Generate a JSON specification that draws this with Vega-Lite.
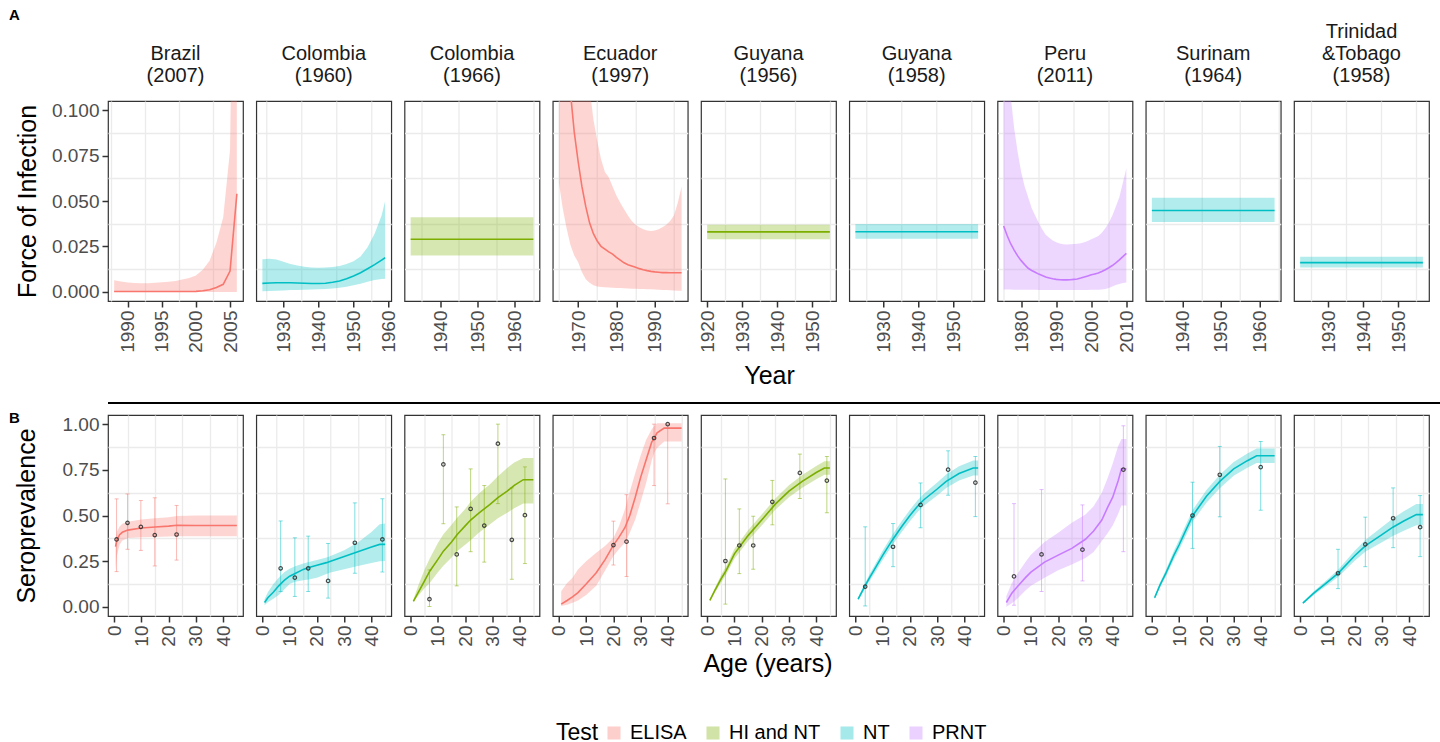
{
  "$schema": "https://vega.github.io/schema/vega-lite/v6.json",
  "background": "white",
  "padding": {"left": 9, "top": 8, "right": 5, "bottom": 5},
  "title": {"text": "A", "anchor": "start", "frame": "bounds", "fontSize": 15, "fontWeight": "bold", "dx": 0, "offset": -1},
  "datasets": {
    "foi": [
      {"site":"Brazil|(2007)","test":"ELISA","year":1988,"est":0.0002,"lo":0,"hi":0.0064},
      {"site":"Brazil|(2007)","test":"ELISA","year":1989,"est":0.0002,"lo":0,"hi":0.0057},
      {"site":"Brazil|(2007)","test":"ELISA","year":1990,"est":0.0002,"lo":0,"hi":0.0052},
      {"site":"Brazil|(2007)","test":"ELISA","year":1991,"est":0.0002,"lo":0,"hi":0.0049},
      {"site":"Brazil|(2007)","test":"ELISA","year":1992,"est":0.0002,"lo":0,"hi":0.0047},
      {"site":"Brazil|(2007)","test":"ELISA","year":1993,"est":0.0002,"lo":0,"hi":0.0048},
      {"site":"Brazil|(2007)","test":"ELISA","year":1994,"est":0.0002,"lo":0,"hi":0.005},
      {"site":"Brazil|(2007)","test":"ELISA","year":1995,"est":0.0002,"lo":0,"hi":0.0053},
      {"site":"Brazil|(2007)","test":"ELISA","year":1996,"est":0.0002,"lo":0,"hi":0.0056},
      {"site":"Brazil|(2007)","test":"ELISA","year":1997,"est":0.0002,"lo":0,"hi":0.006},
      {"site":"Brazil|(2007)","test":"ELISA","year":1998,"est":0.0002,"lo":0,"hi":0.0068},
      {"site":"Brazil|(2007)","test":"ELISA","year":1999,"est":0.0002,"lo":0,"hi":0.0077},
      {"site":"Brazil|(2007)","test":"ELISA","year":2000,"est":0.0003,"lo":0,"hi":0.009},
      {"site":"Brazil|(2007)","test":"ELISA","year":2001,"est":0.0006,"lo":0,"hi":0.0122},
      {"site":"Brazil|(2007)","test":"ELISA","year":2002,"est":0.0012,"lo":0,"hi":0.0172},
      {"site":"Brazil|(2007)","test":"ELISA","year":2003,"est":0.0024,"lo":0,"hi":0.027},
      {"site":"Brazil|(2007)","test":"ELISA","year":2004,"est":0.0042,"lo":0,"hi":0.041},
      {"site":"Brazil|(2007)","test":"ELISA","year":2005,"est":0.0115,"lo":0,"hi":0.078},
      {"site":"Brazil|(2007)","test":"ELISA","year":2006,"est":0.054,"lo":0,"hi":0.35},
      {"site":"Colombia|(1960)","test":"NT","year":1924,"est":0.0047,"lo":0.0003,"hi":0.018},
      {"site":"Colombia|(1960)","test":"NT","year":1926,"est":0.0049,"lo":0.0005,"hi":0.0182},
      {"site":"Colombia|(1960)","test":"NT","year":1928,"est":0.005,"lo":0.0006,"hi":0.0178},
      {"site":"Colombia|(1960)","test":"NT","year":1930,"est":0.005,"lo":0.0008,"hi":0.0166},
      {"site":"Colombia|(1960)","test":"NT","year":1932,"est":0.005,"lo":0.001,"hi":0.0153},
      {"site":"Colombia|(1960)","test":"NT","year":1934,"est":0.0049,"lo":0.0011,"hi":0.0145},
      {"site":"Colombia|(1960)","test":"NT","year":1936,"est":0.0048,"lo":0.0012,"hi":0.0138},
      {"site":"Colombia|(1960)","test":"NT","year":1938,"est":0.0046,"lo":0.0013,"hi":0.0134},
      {"site":"Colombia|(1960)","test":"NT","year":1940,"est":0.0046,"lo":0.0014,"hi":0.0133},
      {"site":"Colombia|(1960)","test":"NT","year":1942,"est":0.0048,"lo":0.0016,"hi":0.0134},
      {"site":"Colombia|(1960)","test":"NT","year":1944,"est":0.0053,"lo":0.0019,"hi":0.0137},
      {"site":"Colombia|(1960)","test":"NT","year":1946,"est":0.006,"lo":0.0023,"hi":0.0143},
      {"site":"Colombia|(1960)","test":"NT","year":1948,"est":0.0072,"lo":0.0029,"hi":0.0153},
      {"site":"Colombia|(1960)","test":"NT","year":1950,"est":0.0087,"lo":0.0036,"hi":0.0168},
      {"site":"Colombia|(1960)","test":"NT","year":1952,"est":0.0105,"lo":0.0045,"hi":0.0195},
      {"site":"Colombia|(1960)","test":"NT","year":1954,"est":0.0127,"lo":0.0056,"hi":0.0245},
      {"site":"Colombia|(1960)","test":"NT","year":1956,"est":0.015,"lo":0.0066,"hi":0.032},
      {"site":"Colombia|(1960)","test":"NT","year":1958,"est":0.0175,"lo":0.0071,"hi":0.042},
      {"site":"Colombia|(1960)","test":"NT","year":1959,"est":0.0188,"lo":0.0072,"hi":0.05},
      {"site":"Colombia|(1966)","test":"HI and NT","year":1932,"est":0.029,"lo":0.02,"hi":0.041},
      {"site":"Colombia|(1966)","test":"HI and NT","year":1965,"est":0.029,"lo":0.02,"hi":0.041},
      {"site":"Ecuador|(1997)","test":"ELISA","year":1965,"est":0.25,"lo":0.06,"hi":0.45},
      {"site":"Ecuador|(1997)","test":"ELISA","year":1966,"est":0.19,"lo":0.046,"hi":0.42},
      {"site":"Ecuador|(1997)","test":"ELISA","year":1967,"est":0.145,"lo":0.035,"hi":0.38},
      {"site":"Ecuador|(1997)","test":"ELISA","year":1968,"est":0.11,"lo":0.026,"hi":0.33},
      {"site":"Ecuador|(1997)","test":"ELISA","year":1969,"est":0.088,"lo":0.02,"hi":0.27},
      {"site":"Ecuador|(1997)","test":"ELISA","year":1970,"est":0.072,"lo":0.0165,"hi":0.22},
      {"site":"Ecuador|(1997)","test":"ELISA","year":1971,"est":0.058,"lo":0.011,"hi":0.18},
      {"site":"Ecuador|(1997)","test":"ELISA","year":1972,"est":0.047,"lo":0.007,"hi":0.14},
      {"site":"Ecuador|(1997)","test":"ELISA","year":1973,"est":0.038,"lo":0.005,"hi":0.112},
      {"site":"Ecuador|(1997)","test":"ELISA","year":1974,"est":0.032,"lo":0.0036,"hi":0.095},
      {"site":"Ecuador|(1997)","test":"ELISA","year":1975,"est":0.028,"lo":0.003,"hi":0.083},
      {"site":"Ecuador|(1997)","test":"ELISA","year":1976,"est":0.025,"lo":0.0027,"hi":0.073},
      {"site":"Ecuador|(1997)","test":"ELISA","year":1977,"est":0.0235,"lo":0.0025,"hi":0.066},
      {"site":"Ecuador|(1997)","test":"ELISA","year":1978,"est":0.022,"lo":0.0024,"hi":0.063},
      {"site":"Ecuador|(1997)","test":"ELISA","year":1979,"est":0.0208,"lo":0.0023,"hi":0.058},
      {"site":"Ecuador|(1997)","test":"ELISA","year":1980,"est":0.019,"lo":0.0022,"hi":0.053},
      {"site":"Ecuador|(1997)","test":"ELISA","year":1981,"est":0.0175,"lo":0.0021,"hi":0.049},
      {"site":"Ecuador|(1997)","test":"ELISA","year":1982,"est":0.016,"lo":0.002,"hi":0.0455},
      {"site":"Ecuador|(1997)","test":"ELISA","year":1983,"est":0.015,"lo":0.0019,"hi":0.042},
      {"site":"Ecuador|(1997)","test":"ELISA","year":1984,"est":0.0143,"lo":0.0018,"hi":0.039},
      {"site":"Ecuador|(1997)","test":"ELISA","year":1985,"est":0.0135,"lo":0.0017,"hi":0.037},
      {"site":"Ecuador|(1997)","test":"ELISA","year":1986,"est":0.0128,"lo":0.0016,"hi":0.0355},
      {"site":"Ecuador|(1997)","test":"ELISA","year":1987,"est":0.0122,"lo":0.0016,"hi":0.0345},
      {"site":"Ecuador|(1997)","test":"ELISA","year":1988,"est":0.0117,"lo":0.0015,"hi":0.0338},
      {"site":"Ecuador|(1997)","test":"ELISA","year":1989,"est":0.0113,"lo":0.0014,"hi":0.0335},
      {"site":"Ecuador|(1997)","test":"ELISA","year":1990,"est":0.011,"lo":0.0013,"hi":0.0338},
      {"site":"Ecuador|(1997)","test":"ELISA","year":1991,"est":0.0108,"lo":0.0012,"hi":0.0345},
      {"site":"Ecuador|(1997)","test":"ELISA","year":1992,"est":0.0106,"lo":0.0011,"hi":0.0355},
      {"site":"Ecuador|(1997)","test":"ELISA","year":1993,"est":0.0106,"lo":0.001,"hi":0.037},
      {"site":"Ecuador|(1997)","test":"ELISA","year":1994,"est":0.0105,"lo":0.0009,"hi":0.039},
      {"site":"Ecuador|(1997)","test":"ELISA","year":1995,"est":0.0105,"lo":0.0008,"hi":0.042},
      {"site":"Ecuador|(1997)","test":"ELISA","year":1996,"est":0.0105,"lo":0.0007,"hi":0.049},
      {"site":"Ecuador|(1997)","test":"ELISA","year":1997,"est":0.0105,"lo":0.0006,"hi":0.058},
      {"site":"Guyana|(1956)","test":"HI and NT","year":1920,"est":0.033,"lo":0.029,"hi":0.037},
      {"site":"Guyana|(1956)","test":"HI and NT","year":1955,"est":0.033,"lo":0.029,"hi":0.037},
      {"site":"Guyana|(1958)","test":"NT","year":1922,"est":0.0331,"lo":0.0293,"hi":0.0374},
      {"site":"Guyana|(1958)","test":"NT","year":1957,"est":0.0331,"lo":0.0293,"hi":0.0374},
      {"site":"Peru|(2011)","test":"PRNT","year":1975,"est":0.0363,"lo":0.0013,"hi":0.16},
      {"site":"Peru|(2011)","test":"PRNT","year":1976,"est":0.031,"lo":0.0013,"hi":0.135},
      {"site":"Peru|(2011)","test":"PRNT","year":1977,"est":0.0265,"lo":0.0013,"hi":0.108},
      {"site":"Peru|(2011)","test":"PRNT","year":1978,"est":0.023,"lo":0.0012,"hi":0.09},
      {"site":"Peru|(2011)","test":"PRNT","year":1979,"est":0.0198,"lo":0.0012,"hi":0.077},
      {"site":"Peru|(2011)","test":"PRNT","year":1980,"est":0.0172,"lo":0.0012,"hi":0.066},
      {"site":"Peru|(2011)","test":"PRNT","year":1981,"est":0.015,"lo":0.0012,"hi":0.058},
      {"site":"Peru|(2011)","test":"PRNT","year":1982,"est":0.013,"lo":0.0012,"hi":0.052},
      {"site":"Peru|(2011)","test":"PRNT","year":1983,"est":0.0118,"lo":0.0012,"hi":0.046},
      {"site":"Peru|(2011)","test":"PRNT","year":1984,"est":0.0108,"lo":0.0012,"hi":0.042},
      {"site":"Peru|(2011)","test":"PRNT","year":1985,"est":0.0098,"lo":0.0011,"hi":0.038},
      {"site":"Peru|(2011)","test":"PRNT","year":1986,"est":0.009,"lo":0.0011,"hi":0.0345},
      {"site":"Peru|(2011)","test":"PRNT","year":1987,"est":0.0082,"lo":0.0011,"hi":0.0315},
      {"site":"Peru|(2011)","test":"PRNT","year":1988,"est":0.0077,"lo":0.0011,"hi":0.0298},
      {"site":"Peru|(2011)","test":"PRNT","year":1989,"est":0.0072,"lo":0.0011,"hi":0.0283},
      {"site":"Peru|(2011)","test":"PRNT","year":1990,"est":0.0069,"lo":0.0011,"hi":0.0273},
      {"site":"Peru|(2011)","test":"PRNT","year":1991,"est":0.0067,"lo":0.0011,"hi":0.0266},
      {"site":"Peru|(2011)","test":"PRNT","year":1992,"est":0.0066,"lo":0.0011,"hi":0.0262},
      {"site":"Peru|(2011)","test":"PRNT","year":1993,"est":0.0066,"lo":0.0011,"hi":0.0261},
      {"site":"Peru|(2011)","test":"PRNT","year":1994,"est":0.0067,"lo":0.0011,"hi":0.0262},
      {"site":"Peru|(2011)","test":"PRNT","year":1995,"est":0.0069,"lo":0.0011,"hi":0.0263},
      {"site":"Peru|(2011)","test":"PRNT","year":1996,"est":0.0071,"lo":0.0011,"hi":0.0265},
      {"site":"Peru|(2011)","test":"PRNT","year":1997,"est":0.0076,"lo":0.0011,"hi":0.0268},
      {"site":"Peru|(2011)","test":"PRNT","year":1998,"est":0.0082,"lo":0.0011,"hi":0.0273},
      {"site":"Peru|(2011)","test":"PRNT","year":1999,"est":0.0088,"lo":0.0011,"hi":0.028},
      {"site":"Peru|(2011)","test":"PRNT","year":2000,"est":0.0094,"lo":0.0012,"hi":0.029},
      {"site":"Peru|(2011)","test":"PRNT","year":2001,"est":0.0099,"lo":0.0012,"hi":0.0298},
      {"site":"Peru|(2011)","test":"PRNT","year":2002,"est":0.0104,"lo":0.0012,"hi":0.0308},
      {"site":"Peru|(2011)","test":"PRNT","year":2003,"est":0.0112,"lo":0.0013,"hi":0.0325},
      {"site":"Peru|(2011)","test":"PRNT","year":2004,"est":0.0122,"lo":0.0016,"hi":0.035},
      {"site":"Peru|(2011)","test":"PRNT","year":2005,"est":0.0133,"lo":0.0022,"hi":0.038},
      {"site":"Peru|(2011)","test":"PRNT","year":2006,"est":0.0145,"lo":0.003,"hi":0.042},
      {"site":"Peru|(2011)","test":"PRNT","year":2007,"est":0.016,"lo":0.0038,"hi":0.047},
      {"site":"Peru|(2011)","test":"PRNT","year":2008,"est":0.0176,"lo":0.0044,"hi":0.052},
      {"site":"Peru|(2011)","test":"PRNT","year":2009,"est":0.0194,"lo":0.0049,"hi":0.06},
      {"site":"Peru|(2011)","test":"PRNT","year":2010,"est":0.0212,"lo":0.0052,"hi":0.068},
      {"site":"Surinam|(1964)","test":"NT","year":1932,"est":0.0448,"lo":0.0385,"hi":0.0518},
      {"site":"Surinam|(1964)","test":"NT","year":1964,"est":0.0448,"lo":0.0385,"hi":0.0518},
      {"site":"Trinidad|&Tobago|(1958)","test":"NT","year":1922,"est":0.0161,"lo":0.0134,"hi":0.0194},
      {"site":"Trinidad|&Tobago|(1958)","test":"NT","year":1957,"est":0.0161,"lo":0.0134,"hi":0.0194}
    ],
    "sero": [
      {"site":"Brazil|(2007)","test":"ELISA","kind":"fit","age":0.5,"est":0.33,"lo":0.2,"hi":0.37},
      {"site":"Brazil|(2007)","test":"ELISA","kind":"fit","age":1,"est":0.365,"lo":0.28,"hi":0.41},
      {"site":"Brazil|(2007)","test":"ELISA","kind":"fit","age":2,"est":0.395,"lo":0.34,"hi":0.44},
      {"site":"Brazil|(2007)","test":"ELISA","kind":"fit","age":3,"est":0.408,"lo":0.363,"hi":0.455},
      {"site":"Brazil|(2007)","test":"ELISA","kind":"fit","age":5,"est":0.42,"lo":0.377,"hi":0.466},
      {"site":"Brazil|(2007)","test":"ELISA","kind":"fit","age":10,"est":0.432,"lo":0.381,"hi":0.478},
      {"site":"Brazil|(2007)","test":"ELISA","kind":"fit","age":15,"est":0.437,"lo":0.383,"hi":0.485},
      {"site":"Brazil|(2007)","test":"ELISA","kind":"fit","age":20,"est":0.442,"lo":0.385,"hi":0.49},
      {"site":"Brazil|(2007)","test":"ELISA","kind":"fit","age":23,"est":0.447,"lo":0.387,"hi":0.497},
      {"site":"Brazil|(2007)","test":"ELISA","kind":"fit","age":30,"est":0.445,"lo":0.386,"hi":0.5},
      {"site":"Brazil|(2007)","test":"ELISA","kind":"fit","age":45,"est":0.445,"lo":0.386,"hi":0.5},
      {"site":"Brazil|(2007)","test":"ELISA","kind":"obs","age":0.9,"est":0.369,"lo":0.193,"hi":0.591},
      {"site":"Brazil|(2007)","test":"ELISA","kind":"obs","age":4.9,"est":0.46,"lo":0.315,"hi":0.618},
      {"site":"Brazil|(2007)","test":"ELISA","kind":"obs","age":9.8,"est":0.438,"lo":0.309,"hi":0.582},
      {"site":"Brazil|(2007)","test":"ELISA","kind":"obs","age":14.9,"est":0.393,"lo":0.224,"hi":0.597},
      {"site":"Brazil|(2007)","test":"ELISA","kind":"obs","age":22.9,"est":0.396,"lo":0.256,"hi":0.555},
      {"site":"Colombia|(1960)","test":"NT","kind":"fit","age":0.8,"est":0.024,"lo":0.009,"hi":0.042},
      {"site":"Colombia|(1960)","test":"NT","kind":"fit","age":2,"est":0.05,"lo":0.025,"hi":0.08},
      {"site":"Colombia|(1960)","test":"NT","kind":"fit","age":4,"est":0.08,"lo":0.045,"hi":0.125},
      {"site":"Colombia|(1960)","test":"NT","kind":"fit","age":6,"est":0.115,"lo":0.065,"hi":0.16},
      {"site":"Colombia|(1960)","test":"NT","kind":"fit","age":8,"est":0.145,"lo":0.095,"hi":0.19},
      {"site":"Colombia|(1960)","test":"NT","kind":"fit","age":10,"est":0.168,"lo":0.125,"hi":0.209},
      {"site":"Colombia|(1960)","test":"NT","kind":"fit","age":12,"est":0.183,"lo":0.137,"hi":0.222},
      {"site":"Colombia|(1960)","test":"NT","kind":"fit","age":15,"est":0.205,"lo":0.145,"hi":0.238},
      {"site":"Colombia|(1960)","test":"NT","kind":"fit","age":17,"est":0.215,"lo":0.15,"hi":0.245},
      {"site":"Colombia|(1960)","test":"NT","kind":"fit","age":20,"est":0.228,"lo":0.16,"hi":0.256},
      {"site":"Colombia|(1960)","test":"NT","kind":"fit","age":23.5,"est":0.242,"lo":0.18,"hi":0.27},
      {"site":"Colombia|(1960)","test":"NT","kind":"fit","age":25,"est":0.25,"lo":0.188,"hi":0.278},
      {"site":"Colombia|(1960)","test":"NT","kind":"fit","age":30,"est":0.276,"lo":0.206,"hi":0.31},
      {"site":"Colombia|(1960)","test":"NT","kind":"fit","age":35,"est":0.302,"lo":0.224,"hi":0.352},
      {"site":"Colombia|(1960)","test":"NT","kind":"fit","age":40,"est":0.327,"lo":0.24,"hi":0.41},
      {"site":"Colombia|(1960)","test":"NT","kind":"fit","age":43,"est":0.342,"lo":0.25,"hi":0.452},
      {"site":"Colombia|(1960)","test":"NT","kind":"fit","age":45,"est":0.342,"lo":0.251,"hi":0.456},
      {"site":"Colombia|(1960)","test":"NT","kind":"obs","age":6.7,"est":0.211,"lo":0.084,"hi":0.47},
      {"site":"Colombia|(1960)","test":"NT","kind":"obs","age":11.9,"est":0.16,"lo":0.057,"hi":0.378},
      {"site":"Colombia|(1960)","test":"NT","kind":"obs","age":16.8,"est":0.211,"lo":0.084,"hi":0.387},
      {"site":"Colombia|(1960)","test":"NT","kind":"obs","age":24.1,"est":0.142,"lo":0.048,"hi":0.347},
      {"site":"Colombia|(1960)","test":"NT","kind":"obs","age":33.9,"est":0.351,"lo":0.184,"hi":0.569},
      {"site":"Colombia|(1960)","test":"NT","kind":"obs","age":44,"est":0.369,"lo":0.191,"hi":0.591},
      {"site":"Colombia|(1966)","test":"HI and NT","kind":"fit","age":1,"est":0.03,"lo":0.028,"hi":0.04},
      {"site":"Colombia|(1966)","test":"HI and NT","kind":"fit","age":3,"est":0.085,"lo":0.065,"hi":0.125},
      {"site":"Colombia|(1966)","test":"HI and NT","kind":"fit","age":5,"est":0.14,"lo":0.1,"hi":0.2},
      {"site":"Colombia|(1966)","test":"HI and NT","kind":"fit","age":7,"est":0.195,"lo":0.13,"hi":0.265},
      {"site":"Colombia|(1966)","test":"HI and NT","kind":"fit","age":10,"est":0.26,"lo":0.19,"hi":0.35},
      {"site":"Colombia|(1966)","test":"HI and NT","kind":"fit","age":12,"est":0.305,"lo":0.225,"hi":0.398},
      {"site":"Colombia|(1966)","test":"HI and NT","kind":"fit","age":15,"est":0.355,"lo":0.27,"hi":0.45},
      {"site":"Colombia|(1966)","test":"HI and NT","kind":"fit","age":17,"est":0.395,"lo":0.305,"hi":0.487},
      {"site":"Colombia|(1966)","test":"HI and NT","kind":"fit","age":20,"est":0.443,"lo":0.34,"hi":0.535},
      {"site":"Colombia|(1966)","test":"HI and NT","kind":"fit","age":22,"est":0.475,"lo":0.365,"hi":0.575},
      {"site":"Colombia|(1966)","test":"HI and NT","kind":"fit","age":25,"est":0.513,"lo":0.405,"hi":0.62},
      {"site":"Colombia|(1966)","test":"HI and NT","kind":"fit","age":29,"est":0.56,"lo":0.451,"hi":0.669},
      {"site":"Colombia|(1966)","test":"HI and NT","kind":"fit","age":32,"est":0.598,"lo":0.485,"hi":0.715},
      {"site":"Colombia|(1966)","test":"HI and NT","kind":"fit","age":35.4,"est":0.633,"lo":0.515,"hi":0.76},
      {"site":"Colombia|(1966)","test":"HI and NT","kind":"fit","age":38,"est":0.665,"lo":0.54,"hi":0.79},
      {"site":"Colombia|(1966)","test":"HI and NT","kind":"fit","age":41.3,"est":0.696,"lo":0.565,"hi":0.815},
      {"site":"Colombia|(1966)","test":"HI and NT","kind":"fit","age":45,"est":0.696,"lo":0.565,"hi":0.815},
      {"site":"Colombia|(1966)","test":"HI and NT","kind":"obs","age":6.9,"est":0.042,"lo":0.002,"hi":0.202},
      {"site":"Colombia|(1966)","test":"HI and NT","kind":"obs","age":12,"est":0.78,"lo":0.455,"hi":0.942},
      {"site":"Colombia|(1966)","test":"HI and NT","kind":"obs","age":16.9,"est":0.287,"lo":0.115,"hi":0.547},
      {"site":"Colombia|(1966)","test":"HI and NT","kind":"obs","age":22,"est":0.536,"lo":0.302,"hi":0.755},
      {"site":"Colombia|(1966)","test":"HI and NT","kind":"obs","age":27,"est":0.445,"lo":0.245,"hi":0.664},
      {"site":"Colombia|(1966)","test":"HI and NT","kind":"obs","age":32,"est":0.893,"lo":0.565,"hi":1.0},
      {"site":"Colombia|(1966)","test":"HI and NT","kind":"obs","age":37.1,"est":0.367,"lo":0.151,"hi":0.651},
      {"site":"Colombia|(1966)","test":"HI and NT","kind":"obs","age":41.9,"est":0.502,"lo":0.237,"hi":0.766},
      {"site":"Ecuador|(1997)","test":"ELISA","kind":"fit","age":0.85,"est":0.015,"lo":0.005,"hi":0.085},
      {"site":"Ecuador|(1997)","test":"ELISA","kind":"fit","age":3,"est":0.035,"lo":0.012,"hi":0.13},
      {"site":"Ecuador|(1997)","test":"ELISA","kind":"fit","age":5,"est":0.055,"lo":0.022,"hi":0.16},
      {"site":"Ecuador|(1997)","test":"ELISA","kind":"fit","age":7,"est":0.078,"lo":0.035,"hi":0.205},
      {"site":"Ecuador|(1997)","test":"ELISA","kind":"fit","age":10,"est":0.125,"lo":0.065,"hi":0.25},
      {"site":"Ecuador|(1997)","test":"ELISA","kind":"fit","age":13.7,"est":0.187,"lo":0.115,"hi":0.296},
      {"site":"Ecuador|(1997)","test":"ELISA","kind":"fit","age":17,"est":0.26,"lo":0.2,"hi":0.335},
      {"site":"Ecuador|(1997)","test":"ELISA","kind":"fit","age":20,"est":0.338,"lo":0.278,"hi":0.378},
      {"site":"Ecuador|(1997)","test":"ELISA","kind":"fit","age":22,"est":0.38,"lo":0.315,"hi":0.44},
      {"site":"Ecuador|(1997)","test":"ELISA","kind":"fit","age":24.2,"est":0.433,"lo":0.351,"hi":0.533},
      {"site":"Ecuador|(1997)","test":"ELISA","kind":"fit","age":26,"est":0.5,"lo":0.405,"hi":0.63},
      {"site":"Ecuador|(1997)","test":"ELISA","kind":"fit","age":28,"est":0.6,"lo":0.478,"hi":0.733},
      {"site":"Ecuador|(1997)","test":"ELISA","kind":"fit","age":30,"est":0.71,"lo":0.575,"hi":0.83},
      {"site":"Ecuador|(1997)","test":"ELISA","kind":"fit","age":32,"est":0.805,"lo":0.678,"hi":0.914},
      {"site":"Ecuador|(1997)","test":"ELISA","kind":"fit","age":34,"est":0.9,"lo":0.8,"hi":0.97},
      {"site":"Ecuador|(1997)","test":"ELISA","kind":"fit","age":35,"est":0.925,"lo":0.845,"hi":0.99},
      {"site":"Ecuador|(1997)","test":"ELISA","kind":"fit","age":36,"est":0.952,"lo":0.87,"hi":1.005},
      {"site":"Ecuador|(1997)","test":"ELISA","kind":"fit","age":38.6,"est":0.978,"lo":0.905,"hi":1.005},
      {"site":"Ecuador|(1997)","test":"ELISA","kind":"fit","age":45,"est":0.978,"lo":0.905,"hi":1.005},
      {"site":"Ecuador|(1997)","test":"ELISA","kind":"obs","age":20,"est":0.338,"lo":0.229,"hi":0.469},
      {"site":"Ecuador|(1997)","test":"ELISA","kind":"obs","age":24.8,"est":0.357,"lo":0.166,"hi":0.614},
      {"site":"Ecuador|(1997)","test":"ELISA","kind":"obs","age":34.9,"est":0.924,"lo":0.664,"hi":1.0},
      {"site":"Ecuador|(1997)","test":"ELISA","kind":"obs","age":39.9,"est":1.0,"lo":0.564,"hi":1.0},
      {"site":"Guyana|(1956)","test":"HI and NT","kind":"fit","age":1,"est":0.036,"lo":0.028,"hi":0.044},
      {"site":"Guyana|(1956)","test":"HI and NT","kind":"fit","age":3,"est":0.095,"lo":0.081,"hi":0.109},
      {"site":"Guyana|(1956)","test":"HI and NT","kind":"fit","age":5,"est":0.15,"lo":0.13,"hi":0.17},
      {"site":"Guyana|(1956)","test":"HI and NT","kind":"fit","age":7,"est":0.2,"lo":0.177,"hi":0.223},
      {"site":"Guyana|(1956)","test":"HI and NT","kind":"fit","age":10,"est":0.29,"lo":0.263,"hi":0.317},
      {"site":"Guyana|(1956)","test":"HI and NT","kind":"fit","age":15,"est":0.39,"lo":0.361,"hi":0.419},
      {"site":"Guyana|(1956)","test":"HI and NT","kind":"fit","age":20,"est":0.475,"lo":0.445,"hi":0.505},
      {"site":"Guyana|(1956)","test":"HI and NT","kind":"fit","age":25,"est":0.562,"lo":0.531,"hi":0.593},
      {"site":"Guyana|(1956)","test":"HI and NT","kind":"fit","age":30,"est":0.633,"lo":0.6,"hi":0.666},
      {"site":"Guyana|(1956)","test":"HI and NT","kind":"fit","age":35,"est":0.688,"lo":0.653,"hi":0.723},
      {"site":"Guyana|(1956)","test":"HI and NT","kind":"fit","age":40,"est":0.735,"lo":0.699,"hi":0.771},
      {"site":"Guyana|(1956)","test":"HI and NT","kind":"fit","age":43,"est":0.76,"lo":0.723,"hi":0.797},
      {"site":"Guyana|(1956)","test":"HI and NT","kind":"fit","age":45,"est":0.76,"lo":0.723,"hi":0.797},
      {"site":"Guyana|(1956)","test":"HI and NT","kind":"obs","age":6.7,"est":0.251,"lo":0.015,"hi":0.7},
      {"site":"Guyana|(1956)","test":"HI and NT","kind":"obs","age":11.8,"est":0.336,"lo":0.182,"hi":0.536},
      {"site":"Guyana|(1956)","test":"HI and NT","kind":"obs","age":16.9,"est":0.336,"lo":0.206,"hi":0.496},
      {"site":"Guyana|(1956)","test":"HI and NT","kind":"obs","age":23.9,"est":0.575,"lo":0.449,"hi":0.692},
      {"site":"Guyana|(1956)","test":"HI and NT","kind":"obs","age":34,"est":0.733,"lo":0.593,"hi":0.836},
      {"site":"Guyana|(1956)","test":"HI and NT","kind":"obs","age":43.9,"est":0.691,"lo":0.515,"hi":0.823},
      {"site":"Guyana|(1958)","test":"NT","kind":"fit","age":1,"est":0.043,"lo":0.035,"hi":0.051},
      {"site":"Guyana|(1958)","test":"NT","kind":"fit","age":3,"est":0.1,"lo":0.086,"hi":0.114},
      {"site":"Guyana|(1958)","test":"NT","kind":"fit","age":5,"est":0.155,"lo":0.137,"hi":0.173},
      {"site":"Guyana|(1958)","test":"NT","kind":"fit","age":7,"est":0.205,"lo":0.183,"hi":0.227},
      {"site":"Guyana|(1958)","test":"NT","kind":"fit","age":10,"est":0.282,"lo":0.257,"hi":0.307},
      {"site":"Guyana|(1958)","test":"NT","kind":"fit","age":13.7,"est":0.369,"lo":0.341,"hi":0.397},
      {"site":"Guyana|(1958)","test":"NT","kind":"fit","age":17,"est":0.44,"lo":0.41,"hi":0.47},
      {"site":"Guyana|(1958)","test":"NT","kind":"fit","age":20,"est":0.5,"lo":0.469,"hi":0.531},
      {"site":"Guyana|(1958)","test":"NT","kind":"fit","age":22.8,"est":0.551,"lo":0.519,"hi":0.583},
      {"site":"Guyana|(1958)","test":"NT","kind":"fit","age":25,"est":0.585,"lo":0.552,"hi":0.618},
      {"site":"Guyana|(1958)","test":"NT","kind":"fit","age":30,"est":0.645,"lo":0.61,"hi":0.68},
      {"site":"Guyana|(1958)","test":"NT","kind":"fit","age":33.3,"est":0.687,"lo":0.65,"hi":0.724},
      {"site":"Guyana|(1958)","test":"NT","kind":"fit","age":38,"est":0.73,"lo":0.691,"hi":0.769},
      {"site":"Guyana|(1958)","test":"NT","kind":"fit","age":43.2,"est":0.76,"lo":0.719,"hi":0.801},
      {"site":"Guyana|(1958)","test":"NT","kind":"fit","age":45,"est":0.76,"lo":0.719,"hi":0.801},
      {"site":"Guyana|(1958)","test":"NT","kind":"obs","age":3.6,"est":0.111,"lo":0.005,"hi":0.438},
      {"site":"Guyana|(1958)","test":"NT","kind":"obs","age":13.8,"est":0.329,"lo":0.22,"hi":0.456},
      {"site":"Guyana|(1958)","test":"NT","kind":"obs","age":23.9,"est":0.558,"lo":0.433,"hi":0.678},
      {"site":"Guyana|(1958)","test":"NT","kind":"obs","age":34,"est":0.751,"lo":0.611,"hi":0.854},
      {"site":"Guyana|(1958)","test":"NT","kind":"obs","age":44,"est":0.68,"lo":0.494,"hi":0.823},
      {"site":"Peru|(2011)","test":"PRNT","kind":"fit","age":1,"est":0.024,"lo":0.0,"hi":0.06},
      {"site":"Peru|(2011)","test":"PRNT","kind":"fit","age":3,"est":0.075,"lo":0.02,"hi":0.13},
      {"site":"Peru|(2011)","test":"PRNT","kind":"fit","age":5,"est":0.11,"lo":0.045,"hi":0.18},
      {"site":"Peru|(2011)","test":"PRNT","kind":"fit","age":8,"est":0.16,"lo":0.09,"hi":0.245},
      {"site":"Peru|(2011)","test":"PRNT","kind":"fit","age":10,"est":0.19,"lo":0.115,"hi":0.285},
      {"site":"Peru|(2011)","test":"PRNT","kind":"fit","age":15,"est":0.245,"lo":0.16,"hi":0.355},
      {"site":"Peru|(2011)","test":"PRNT","kind":"fit","age":20,"est":0.283,"lo":0.2,"hi":0.405},
      {"site":"Peru|(2011)","test":"PRNT","kind":"fit","age":25,"est":0.32,"lo":0.232,"hi":0.46},
      {"site":"Peru|(2011)","test":"PRNT","kind":"fit","age":30,"est":0.37,"lo":0.268,"hi":0.505},
      {"site":"Peru|(2011)","test":"PRNT","kind":"fit","age":33,"est":0.415,"lo":0.3,"hi":0.55},
      {"site":"Peru|(2011)","test":"PRNT","kind":"fit","age":36,"est":0.475,"lo":0.36,"hi":0.625},
      {"site":"Peru|(2011)","test":"PRNT","kind":"fit","age":38,"est":0.54,"lo":0.4,"hi":0.7},
      {"site":"Peru|(2011)","test":"PRNT","kind":"fit","age":40,"est":0.6,"lo":0.445,"hi":0.785},
      {"site":"Peru|(2011)","test":"PRNT","kind":"fit","age":42,"est":0.69,"lo":0.51,"hi":0.88},
      {"site":"Peru|(2011)","test":"PRNT","kind":"fit","age":43.2,"est":0.755,"lo":0.555,"hi":0.918},
      {"site":"Peru|(2011)","test":"PRNT","kind":"fit","age":45,"est":0.755,"lo":0.555,"hi":0.918},
      {"site":"Peru|(2011)","test":"PRNT","kind":"obs","age":3.8,"est":0.167,"lo":0.009,"hi":0.565},
      {"site":"Peru|(2011)","test":"PRNT","kind":"obs","age":13.9,"est":0.287,"lo":0.084,"hi":0.642},
      {"site":"Peru|(2011)","test":"PRNT","kind":"obs","age":28.9,"est":0.313,"lo":0.142,"hi":0.558},
      {"site":"Peru|(2011)","test":"PRNT","kind":"obs","age":43.9,"est":0.751,"lo":0.302,"hi":0.991},
      {"site":"Surinam|(1964)","test":"NT","kind":"fit","age":1,"est":0.05,"lo":0.042,"hi":0.058},
      {"site":"Surinam|(1964)","test":"NT","kind":"fit","age":3,"est":0.12,"lo":0.107,"hi":0.133},
      {"site":"Surinam|(1964)","test":"NT","kind":"fit","age":5,"est":0.18,"lo":0.162,"hi":0.198},
      {"site":"Surinam|(1964)","test":"NT","kind":"fit","age":8,"est":0.28,"lo":0.256,"hi":0.304},
      {"site":"Surinam|(1964)","test":"NT","kind":"fit","age":10,"est":0.34,"lo":0.313,"hi":0.367},
      {"site":"Surinam|(1964)","test":"NT","kind":"fit","age":12,"est":0.405,"lo":0.375,"hi":0.435},
      {"site":"Surinam|(1964)","test":"NT","kind":"fit","age":15,"est":0.5,"lo":0.468,"hi":0.532},
      {"site":"Surinam|(1964)","test":"NT","kind":"fit","age":20,"est":0.605,"lo":0.57,"hi":0.64},
      {"site":"Surinam|(1964)","test":"NT","kind":"fit","age":25,"est":0.688,"lo":0.651,"hi":0.725},
      {"site":"Surinam|(1964)","test":"NT","kind":"fit","age":30,"est":0.755,"lo":0.717,"hi":0.793},
      {"site":"Surinam|(1964)","test":"NT","kind":"fit","age":35,"est":0.8,"lo":0.761,"hi":0.839},
      {"site":"Surinam|(1964)","test":"NT","kind":"fit","age":38.4,"est":0.827,"lo":0.787,"hi":0.867},
      {"site":"Surinam|(1964)","test":"NT","kind":"fit","age":45,"est":0.827,"lo":0.787,"hi":0.867},
      {"site":"Surinam|(1964)","test":"NT","kind":"obs","age":14.9,"est":0.5,"lo":0.32,"hi":0.682},
      {"site":"Surinam|(1964)","test":"NT","kind":"obs","age":24.9,"est":0.723,"lo":0.493,"hi":0.878},
      {"site":"Surinam|(1964)","test":"NT","kind":"obs","age":39.9,"est":0.765,"lo":0.529,"hi":0.905},
      {"site":"Trinidad|&Tobago|(1958)","test":"NT","kind":"fit","age":1,"est":0.02,"lo":0.015,"hi":0.025},
      {"site":"Trinidad|&Tobago|(1958)","test":"NT","kind":"fit","age":5,"est":0.075,"lo":0.065,"hi":0.085},
      {"site":"Trinidad|&Tobago|(1958)","test":"NT","kind":"fit","age":10,"est":0.135,"lo":0.12,"hi":0.15},
      {"site":"Trinidad|&Tobago|(1958)","test":"NT","kind":"fit","age":14,"est":0.185,"lo":0.165,"hi":0.205},
      {"site":"Trinidad|&Tobago|(1958)","test":"NT","kind":"fit","age":20,"est":0.28,"lo":0.253,"hi":0.307},
      {"site":"Trinidad|&Tobago|(1958)","test":"NT","kind":"fit","age":24,"est":0.335,"lo":0.303,"hi":0.367},
      {"site":"Trinidad|&Tobago|(1958)","test":"NT","kind":"fit","age":30,"est":0.395,"lo":0.353,"hi":0.437},
      {"site":"Trinidad|&Tobago|(1958)","test":"NT","kind":"fit","age":34,"est":0.436,"lo":0.388,"hi":0.484},
      {"site":"Trinidad|&Tobago|(1958)","test":"NT","kind":"fit","age":38,"est":0.47,"lo":0.417,"hi":0.523},
      {"site":"Trinidad|&Tobago|(1958)","test":"NT","kind":"fit","age":42.6,"est":0.505,"lo":0.447,"hi":0.563},
      {"site":"Trinidad|&Tobago|(1958)","test":"NT","kind":"fit","age":45,"est":0.505,"lo":0.447,"hi":0.563},
      {"site":"Trinidad|&Tobago|(1958)","test":"NT","kind":"obs","age":13.9,"est":0.184,"lo":0.1,"hi":0.315},
      {"site":"Trinidad|&Tobago|(1958)","test":"NT","kind":"obs","age":23.9,"est":0.342,"lo":0.22,"hi":0.491},
      {"site":"Trinidad|&Tobago|(1958)","test":"NT","kind":"obs","age":34.1,"est":0.485,"lo":0.324,"hi":0.651},
      {"site":"Trinidad|&Tobago|(1958)","test":"NT","kind":"obs","age":44,"est":0.436,"lo":0.275,"hi":0.609}
    ]
  },
  "columns": 1,
  "align": "none",
  "spacing": 7,
  "concat": [
    {
      "title": {"text": "Year", "orient": "bottom", "anchor": "middle", "frame": "bounds", "fontSize": 25, "fontWeight": "normal", "dx": 47, "offset": 11},
      "spacing": 11.25,
      "hconcat": [
        {
          "data": {"name": "foi"},
          "transform": [{"filter": "datum.site == 'Brazil|(2007)'"}],
          "facet": {"column": {"field": "site", "type": "nominal", "header": {"title": null, "labelPadding": 5, "labelExpr": "split(datum.value, '|')"}}},
          "spacing": 13.25,
          "bounds": "flush",
          "spec": {
            "width": 135,
            "height": 200,
            "encoding": {
              "x": {"field": "year", "type": "quantitative", "scale": {"zero": false, "nice": false, "padding": 6.14},
                "axis": {"title": null, "values": [1985, 1987.5, 1990, 1992.5, 1995, 1997.5, 2000, 2002.5, 2005, 2007.5], "tickCount": 100, "labelAngle": -90,
                  "labelExpr": "datum.value % 5 != 0 ? '' : format(datum.value, 'd')",
                  "tickOpacity": {"condition": {"test": "datum.value % 5 != 0", "value": 0}, "value": 1},
                  "gridOpacity": {"condition": {"test": "datum.value % 5 != 0", "value": 1}, "value": 0}}},
              "color": {"field": "test", "type": "nominal", "title": "Test", "scale": {"domain": ["ELISA", "HI and NT", "NT", "PRNT"], "range": ["#F8766D", "#7CAE00", "#00BFC4", "#C77CFF"]}}
            },
            "layer": [
              {"mark": {"type": "area", "opacity": 0.3, "clip": true},
               "encoding": {
                 "y": {"field": "lo", "type": "quantitative", "title": "Force of Infection", "scale": {"domain": [-0.005, 0.105], "nice": false, "zero": false},
                   "axis": {"values": [0, 0.0125, 0.025, 0.0375, 0.05, 0.0625, 0.075, 0.0875, 0.1], "tickCount": 100, "titlePadding": 11,
                     "labelExpr": "round(datum.value*80) % 2 == 1 ? '' : format(datum.value, '.3f')",
                     "tickOpacity": {"condition": {"test": "round(datum.value*80) % 2 == 1", "value": 0}, "value": 1},
                     "gridOpacity": {"condition": {"test": "round(datum.value*80) % 2 == 1", "value": 1}, "value": 0}}},
                 "y2": {"field": "hi"}}},
              {"mark": {"type": "line", "strokeWidth": 1.6, "clip": true},
               "encoding": {
                 "y": {"field": "est", "type": "quantitative", "title": "Force of Infection",
                   "axis": {"values": [0, 0.0125, 0.025, 0.0375, 0.05, 0.0625, 0.075, 0.0875, 0.1], "tickCount": 100, "titlePadding": 11,
                     "labelExpr": "round(datum.value*80) % 2 == 1 ? '' : format(datum.value, '.3f')",
                     "tickOpacity": {"condition": {"test": "round(datum.value*80) % 2 == 1", "value": 0}, "value": 1},
                     "gridOpacity": {"condition": {"test": "round(datum.value*80) % 2 == 1", "value": 1}, "value": 0}}}}}
            ]
          }
        },
        {
          "data": {"name": "foi"},
          "transform": [{"filter": "datum.site != 'Brazil|(2007)'"}],
          "facet": {"column": {"field": "site", "type": "nominal", "header": {"title": null, "labelPadding": 5, "labelExpr": "split(datum.value, '|')"}}},
          "spacing": 13.25,
          "bounds": "flush",
          "resolve": {"scale": {"x": "independent"}},
          "spec": {
            "width": 135,
            "height": 200,
            "encoding": {
              "x": {"field": "year", "type": "quantitative", "scale": {"zero": false, "nice": false, "padding": 6.14},
                "axis": {"title": null, "values": [1910, 1915, 1920, 1925, 1930, 1935, 1940, 1945, 1950, 1955, 1960, 1965, 1970, 1975, 1980, 1985, 1990, 1995, 2000, 2005, 2010, 2015], "tickCount": 100, "labelAngle": -90,
                  "labelExpr": "datum.value % 10 != 0 ? '' : format(datum.value, 'd')",
                  "tickOpacity": {"condition": {"test": "datum.value % 10 != 0", "value": 0}, "value": 1},
                  "gridOpacity": {"condition": {"test": "datum.value % 10 != 0", "value": 1}, "value": 0}}},
              "color": {"field": "test", "type": "nominal", "title": "Test", "scale": {"domain": ["ELISA", "HI and NT", "NT", "PRNT"], "range": ["#F8766D", "#7CAE00", "#00BFC4", "#C77CFF"]}}
            },
            "layer": [
              {"mark": {"type": "area", "opacity": 0.3, "clip": true},
               "encoding": {
                 "y": {"field": "lo", "type": "quantitative", "title": null, "scale": {"domain": [-0.005, 0.105], "nice": false, "zero": false},
                   "axis": {"values": [0, 0.0125, 0.025, 0.0375, 0.05, 0.0625, 0.075, 0.0875, 0.1], "tickCount": 100, "labels": false, "ticks": false,
                     "gridOpacity": {"condition": {"test": "round(datum.value*80) % 2 == 1", "value": 1}, "value": 0}}},
                 "y2": {"field": "hi"}}},
              {"mark": {"type": "line", "strokeWidth": 1.6, "clip": true},
               "encoding": {
                 "y": {"field": "est", "type": "quantitative", "title": null,
                   "axis": {"values": [0, 0.0125, 0.025, 0.0375, 0.05, 0.0625, 0.075, 0.0875, 0.1], "tickCount": 100, "labels": false, "ticks": false,
                     "gridOpacity": {"condition": {"test": "round(datum.value*80) % 2 == 1", "value": 1}, "value": 0}}}}}
            ]
          }
        }
      ]
    },
    {
      "width": 1424,
      "height": 7,
      "data": {"values": [{"s": 0}]},
      "mark": {"type": "rule", "strokeWidth": 2, "color": "#000000"},
      "encoding": {"y": {"field": "s", "type": "quantitative", "axis": null, "scale": {"domain": [0, 1]}}},
      "view": {"stroke": null}
    },
    {
      "data": {"name": "sero"},
      "title": {"text": "B", "anchor": "start", "frame": "bounds", "fontSize": 15, "fontWeight": "bold", "dx": -5, "offset": -12},
      "facet": {"column": {"field": "site", "type": "nominal", "header": {"labels": false, "title": "Age (years)", "titleOrient": "bottom", "titlePadding": -5}}},
      "spacing": 13.25,
      "bounds": "flush",
      "spec": {
        "width": 135,
        "height": 201,
        "encoding": {
          "x": {"field": "age", "type": "quantitative", "scale": {"domain": [-2.25, 47.25], "nice": false, "zero": false},
            "axis": {"title": null, "values": [0, 5, 10, 15, 20, 25, 30, 35, 40, 45], "tickCount": 100, "labelAngle": -90,
              "labelExpr": "datum.value % 10 != 0 ? '' : format(datum.value, 'd')",
              "tickOpacity": {"condition": {"test": "datum.value % 10 != 0", "value": 0}, "value": 1},
              "gridOpacity": {"condition": {"test": "datum.value % 10 != 0", "value": 1}, "value": 0}}},
          "color": {"field": "test", "type": "nominal", "title": "Test", "scale": {"domain": ["ELISA", "HI and NT", "NT", "PRNT"], "range": ["#F8766D", "#7CAE00", "#00BFC4", "#C77CFF"]}}
        },
        "layer": [
          {"transform": [{"filter": "datum.kind == 'fit'"}],
           "mark": {"type": "area", "opacity": 0.3},
           "encoding": {
             "y": {"field": "lo", "type": "quantitative", "title": "Seroprevalence", "scale": {"domain": [-0.05, 1.05], "nice": false, "zero": false},
               "axis": {"values": [0, 0.125, 0.25, 0.375, 0.5, 0.625, 0.75, 0.875, 1], "tickCount": 100, "titlePadding": 23,
                 "labelExpr": "round(datum.value*8) % 2 == 1 ? '' : format(datum.value, '.2f')",
                 "tickOpacity": {"condition": {"test": "round(datum.value*8) % 2 == 1", "value": 0}, "value": 1},
                 "gridOpacity": {"condition": {"test": "round(datum.value*8) % 2 == 1", "value": 1}, "value": 0}}},
             "y2": {"field": "hi"}}},
          {"transform": [{"filter": "datum.kind == 'fit'"}],
           "mark": {"type": "line", "strokeWidth": 1.6},
           "encoding": {"y": {"field": "est", "type": "quantitative", "title": "Seroprevalence"}}},
          {"transform": [{"filter": "datum.kind == 'obs'"}],
           "mark": {"type": "rule", "opacity": 0.5, "strokeWidth": 1},
           "encoding": {"y": {"field": "lo", "type": "quantitative", "title": "Seroprevalence"}, "y2": {"field": "hi"}}},
          {"transform": [{"filter": "datum.kind == 'obs'"}],
           "mark": {"type": "tick", "orient": "horizontal", "size": 4, "thickness": 1, "opacity": 0.5},
           "encoding": {"y": {"field": "lo", "type": "quantitative", "title": "Seroprevalence"}}},
          {"transform": [{"filter": "datum.kind == 'obs'"}],
           "mark": {"type": "tick", "orient": "horizontal", "size": 4, "thickness": 1, "opacity": 0.5},
           "encoding": {"y": {"field": "hi", "type": "quantitative", "title": "Seroprevalence"}}},
          {"transform": [{"filter": "datum.kind == 'obs'"}],
           "mark": {"type": "point", "filled": false, "size": 12, "strokeWidth": 1.2, "opacity": 0.9},
           "encoding": {"y": {"field": "est", "type": "quantitative", "title": "Seroprevalence"}, "color": {"value": "#333333"}}}
        ]
      }
    }
  ],
  "config": {
    "font": "Liberation Sans",
    "view": {"stroke": "#333333", "strokeWidth": 1.2},
    "axis": {"domain": false, "labelFontSize": 19, "labelColor": "#4D4D4D", "labelPadding": 3, "tickColor": "#333333", "tickSize": 6, "tickWidth": 1.5, "gridColor": "#EBEBEB", "gridWidth": 1.3, "titleFontSize": 25, "titleFontWeight": "normal", "titleColor": "#000000", "labelOverlap": false, "labelFlush": false, "labelBound": false},
    "header": {"labelFontSize": 20, "labelColor": "#1A1A1A", "labelLineHeight": 22, "labelBaseline": "middle", "labelPadding": 5, "titleFontSize": 25, "titleFontWeight": "normal", "titleColor": "#000000", "titlePadding": 6},
    "legend": {"orient": "bottom", "direction": "horizontal", "titleOrient": "left", "titleFontSize": 23, "titleFontWeight": "normal", "titleColor": "#000000", "labelFontSize": 20, "labelColor": "#000000", "symbolType": "square", "symbolSize": 170, "symbolOpacity": 0.35, "symbolStrokeWidth": 0, "columnPadding": 16, "labelOffset": 6, "offset": 46, "layout": {"bottom": {"anchor": "middle"}}},
    "title": {"font": "Liberation Sans", "color": "#000000"}
  }
}
